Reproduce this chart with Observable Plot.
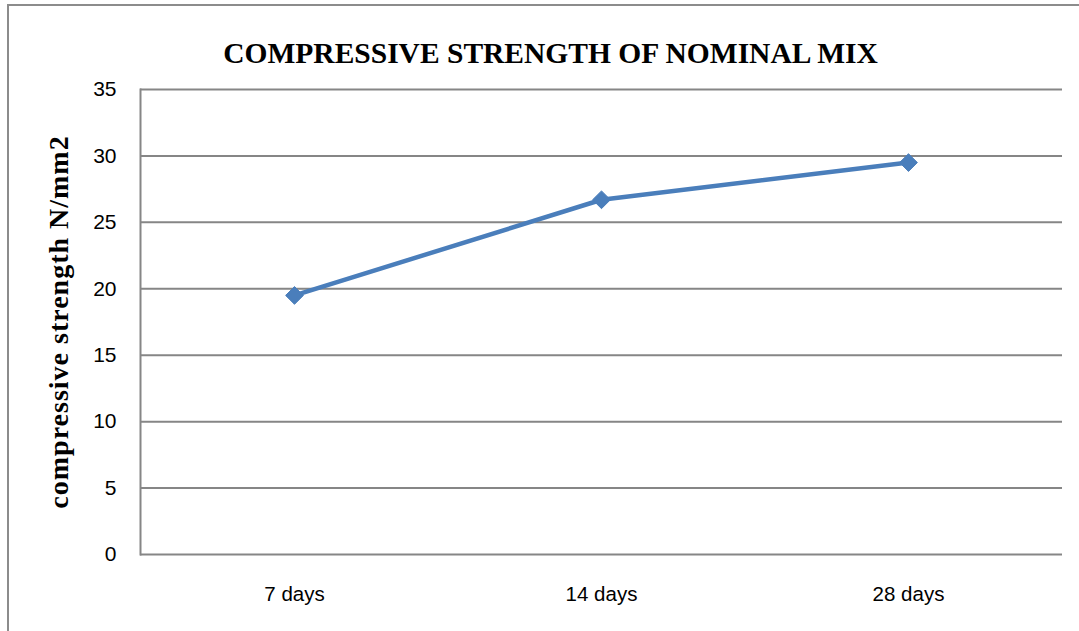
<!DOCTYPE html>
<html>
<head>
<meta charset="utf-8">
<script src="https://cdn.jsdelivr.net/npm/d3@7"></script>
<script src="https://cdn.jsdelivr.net/npm/@observablehq/plot@0.6"></script>
<style>
  html, body { margin: 0; padding: 0; background: #fff; }
  #wrap { position: relative; width: 1079px; height: 631px; overflow: hidden; }
  #border { position: absolute; left: 7px; top: 4px; right: -10px; bottom: -10px;
            border-left: 2px solid #8c8c8c; border-top: 2px solid #8c8c8c; }
  #chart { position: absolute; left: 0; top: 0; }
  .spaced text { letter-spacing: 1px; }
</style>
</head>
<body>
<div id="wrap"><div id="border"></div><div id="chart"></div></div>
<script>
const title = "COMPRESSIVE STRENGTH OF NOMINAL MIX";
const yLabel = "compressive strength N/mm2";
const categories = ["7 days", "14 days", "28 days"];
const strength = [19.5, 26.7, 29.5];
const yTicks = [0, 5, 10, 15, 20, 25, 30, 35];

const data = categories.map((c, i) => ({age: c, value: strength[i]}));

const chart = Plot.plot({
  width: 1079,
  height: 631,
  marginLeft: 140,
  marginRight: 17,
  marginTop: 89,
  marginBottom: 77,
  style: {background: "transparent", overflow: "visible"},
  x: {type: "point", domain: categories, padding: 0.5, label: null},
  y: {domain: [0, 35], label: null},
  marks: [
    Plot.ruleY(yTicks, {stroke: "#868686", strokeWidth: 2, strokeOpacity: 1}),
    Plot.frame({anchor: "left", stroke: "#868686", strokeWidth: 2}),
    Plot.axisY({ticks: yTicks, tickSize: 0, tickPadding: 24, fontSize: 21,
                fontFamily: "Liberation Sans, Arial, sans-serif", fill: "#000", label: null}),
    Plot.axisX({tickSize: 0, tickPadding: 32, fontSize: 20.5,
                fontFamily: "Liberation Sans, Arial, sans-serif", fill: "#000", label: null}),
    Plot.line(data, {x: "age", y: "value", stroke: "#4a7ebb", strokeWidth: 4.5}),
    Plot.dot(data, {x: "age", y: "value", symbol: "diamond2", r: 8, fill: "#4a7ebb", stroke: "#4a7ebb", strokeWidth: 1}),
    Plot.text([title], {frameAnchor: "top", dx: -51, dy: -47, fontSize: 29.5, fontWeight: "bold",
                        fontFamily: "Liberation Serif, Times New Roman, serif", fill: "#000"}),
    Plot.text([yLabel], {frameAnchor: "left", dx: -81, rotate: -90, textAnchor: "middle", fontSize: 28,
                         fontWeight: "bold", className: "spaced",
                         fontFamily: "Liberation Serif, Times New Roman, serif", fill: "#000"})
  ]
});
document.getElementById("chart").appendChild(chart);
</script>
</body>
</html>
